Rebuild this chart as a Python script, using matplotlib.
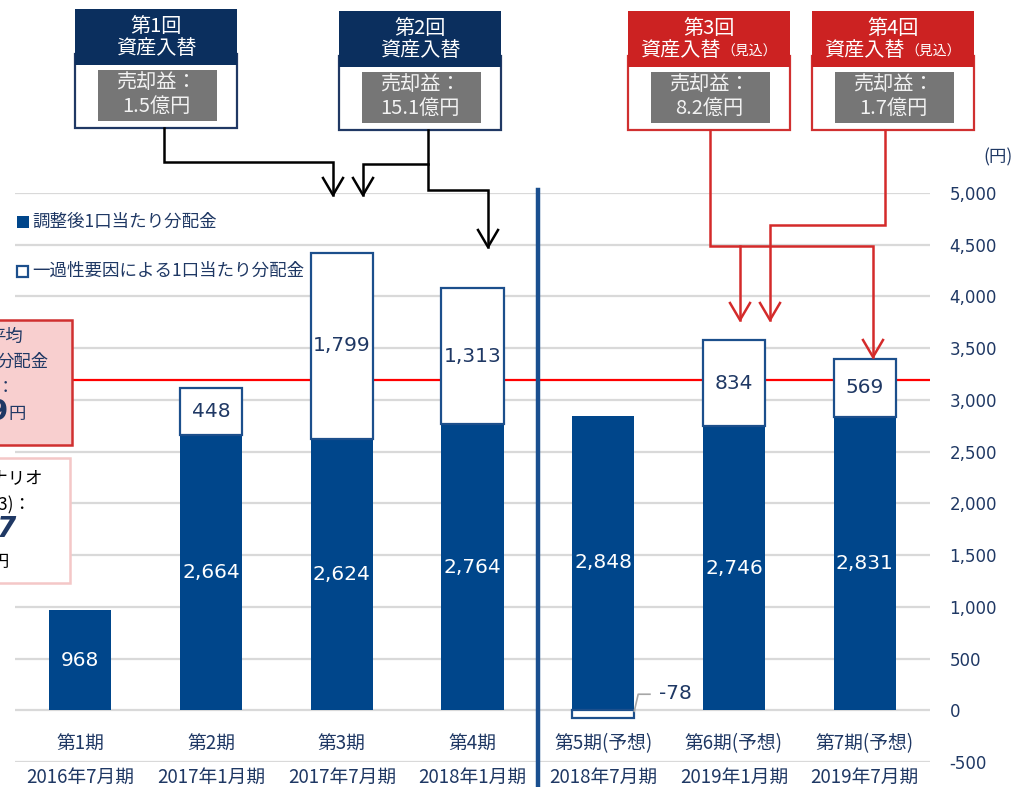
import matplotlib
matplotlib.use("Agg")
import matplotlib.pyplot as plt
import matplotlib.transforms as mtransforms
from matplotlib.patches import Rectangle
from matplotlib.lines import Line2D
import numpy as np

plt.rcParams['font.family'] = ['Noto Sans CJK JP', 'DejaVu Sans']

# ---- data ----
periods = ['第1期', '第2期', '第3期', '第4期', '第5期(予想)', '第6期(予想)', '第7期(予想)']
fiscal = ['2016年7月期', '2017年1月期', '2017年7月期', '2018年1月期',
          '2018年7月期', '2019年1月期', '2019年7月期']
adjusted = np.array([968, 2664, 2624, 2764, 2848, 2746, 2831])
one_off = np.array([0, 448, 1799, 1313, -78, 834, 569])
avg_level = 3190

rounds = ['第1回', '第2回', '第3回', '第4回']
sale_gain = ['1.5億円', '15.1億円', '8.2億円', '1.7億円']
forecast_round = [False, False, True, True]

# ---- colours ----
navy = '#00468b'
edge_navy = '#1c4f8c'
text_navy = '#1f3864'
head_navy = '#0b2f5e'
head_red = '#cc2222'
gray_box = '#767676'

W, H = 1016, 787
fig = plt.figure(figsize=(W / 100, H / 100), dpi=100)


def fx(x):
    return x / W


def fy(y):
    return 1 - y / H


ax = fig.add_axes([fx(15), fy(762), (930 - 15) / W, (762 - 193) / H])
x = np.arange(len(periods))
bw = 0.475

ax.set_xlim(-0.5, 6.5)
ax.set_ylim(-500, 5000)
ax.set_yticks(range(-500, 5001, 500))
ax.set_yticklabels([f'{v:,}' for v in range(-500, 5001, 500)],
                   family='DejaVu Sans', fontsize=12, color=text_navy)
ax.yaxis.tick_right()
ax.tick_params(axis='y', length=0, pad=14)
ax.set_xticks([])
for s in ax.spines.values():
    s.set_visible(False)
ax.yaxis.grid(True, color='#d9d9d9', lw=1.6)
ax.set_axisbelow(True)

# average line
ax.axhline(avg_level, color='#ff0000', lw=1.6, zorder=1)

# bars
ax.bar(x, adjusted, width=bw, color=navy, zorder=2)
mask = one_off != 0
bottoms = np.where(one_off > 0, adjusted, 0)
ax.bar(x[mask], one_off[mask], bottom=bottoms[mask], width=bw,
       facecolor='white', edgecolor=edge_navy, lw=1.6, zorder=3)

for i in x:
    ax.text(i, adjusted[i] / 2, f'{adjusted[i]:,}', ha='center', va='center',
            color='white', fontsize=14.5, family='DejaVu Sans', zorder=4)
    if one_off[i] > 0:
        ax.text(i, adjusted[i] + one_off[i] / 2, f'{one_off[i]:,}', ha='center',
                va='center', color=text_navy, fontsize=14.5,
                family='DejaVu Sans', zorder=4)
    elif one_off[i] < 0:
        re = i + bw / 2
        ax.plot([re, re + 0.03, re + 0.12], [-10, 155, 155], color='#a6a6a6',
                lw=1.2, zorder=4)
        ax.text(re + 0.19, 160, f'{one_off[i]:,}', ha='left', va='center',
                color=text_navy, fontsize=14.5, family='DejaVu Sans', zorder=4)

# category labels below the axis
bt = mtransforms.blended_transform_factory(ax.transData, fig.transFigure)
for i in x:
    ax.text(i, fy(744), periods[i], transform=bt, ha='center', va='center',
            fontsize=13.5, color=text_navy)
    ax.text(i, fy(777), fiscal[i], transform=bt, ha='center', va='center',
            fontsize=13.5, color=text_navy, clip_on=False)

# separator between results and forecasts
ax.add_line(Line2D([3.5, 3.5], [fy(190), 0], transform=bt, color='#1a4f8f',
                   lw=3.2, clip_on=False, zorder=5))

# unit
fig.text(fx(998), fy(157), '(円)', ha='center', va='center', fontsize=12.5,
         color=text_navy)

# legend
fig.patches.append(Rectangle((fx(17), fy(228)), 12 / W, 12 / H,
                             transform=fig.transFigure, facecolor=navy,
                             edgecolor='none'))
fig.text(fx(32), fy(222), '調整後1口当たり分配金', ha='left', va='center',
         fontsize=12.6, color=text_navy)
fig.patches.append(Rectangle((fx(17), fy(277)), 11 / W, 11 / H,
                             transform=fig.transFigure, facecolor='white',
                             edgecolor=edge_navy, lw=1.6))
fig.text(fx(32), fy(271), '一過性要因による1口当たり分配金', ha='left',
         va='center', fontsize=12.6, color=text_navy)


def rect(x0, y0, x1, y1, **kw):
    fig.patches.append(Rectangle((fx(x0), fy(y1)), (x1 - x0) / W, (y1 - y0) / H,
                                 transform=fig.transFigure, **kw))


# left side boxes (cut off at the figure edge, as in the source)
rect(-10, 320, 72, 445, facecolor='#f8cfcf', edgecolor='#d03030', lw=1.8)
fig.text(fx(23), fy(337), '平均', ha='right', va='center', fontsize=12.5,
         color=text_navy)
fig.text(fx(49), fy(362), '分配金', ha='right', va='center', fontsize=12.5,
         color=text_navy)
fig.text(fx(14), fy(388), '：', ha='right', va='center', fontsize=12.5,
         color=text_navy)
fig.text(fx(8), fy(412), '9', ha='right', va='center', fontsize=20,
         fontweight='bold', family='DejaVu Sans', color=text_navy)
fig.text(fx(8), fy(414), '円', ha='left', va='center', fontsize=12.5,
         color=text_navy)

rect(-10, 458, 70, 583, facecolor='white', edgecolor='#f4c7c7', lw=1.8)
fig.text(fx(43), fy(478), 'シナリオ', ha='right', va='center', fontsize=12.5,
         color='black')
fig.text(fx(31), fy(505), '(3)：', ha='right', va='center', fontsize=12.5,
         color='black')
fig.text(fx(16), fy(529), '7', ha='right', va='center', fontsize=20,
         fontweight='bold', fontstyle='italic', family='DejaVu Sans',
         color=text_navy)
fig.text(fx(9), fy(562), '円', ha='right', va='center', fontsize=12.5,
         color='black')

# asset replacement boxes
box_left = [75, 339, 628, 812]
box_top = [9, 11, 11, 11]
for k in range(4):
    l, t = box_left[k], box_top[k]
    r = l + 162
    c = (l + r) / 2
    hc = head_red if forecast_round[k] else head_navy
    bc = '#d03030' if forecast_round[k] else '#203864'
    rect(l, t + 45, r, t + 119, facecolor='white', edgecolor=bc, lw=1.6)
    rect(l, t, r, t + 56, facecolor=hc, edgecolor='none')
    rect(l + 23, t + 61, l + 142, t + 112, facecolor=gray_box, edgecolor='none')
    fig.text(fx(c), fy(t + 18), rounds[k], ha='center', va='center',
             fontsize=14.5, color='white')
    if forecast_round[k]:
        fig.text(fx(c + 12), fy(t + 40), '資産入替', ha='right', va='center',
                 fontsize=14.5, color='white')
        fig.text(fx(c + 12), fy(t + 41), '（見込）', ha='left', va='center',
                 fontsize=10, color='white')
    else:
        fig.text(fx(c), fy(t + 40), '資産入替', ha='center', va='center',
                 fontsize=14.5, color='white')
    fig.text(fx(c), fy(t + 73), '売却益：', ha='center', va='center',
             fontsize=14.5, color='#f2f2f2')
    fig.text(fx(c), fy(t + 97), sale_gain[k], ha='center', va='center',
             fontsize=14.5, color='#f2f2f2')

# arrows from boxes to bars
arrow_paths = [
    ([(164, 128), (164, 162), (333, 162), (333, 195)], 'black'),
    ([(428, 130), (428, 190), (488, 190), (488, 247)], 'black'),
    ([(428, 164), (363, 164), (363, 195)], 'black'),
    ([(710, 130), (710, 246), (873, 246), (873, 357)], '#d42a2a'),
    ([(740, 246), (740, 320)], '#d42a2a'),
    ([(885, 130), (885, 225), (770, 225), (770, 320)], '#d42a2a'),
]
for pts, col in arrow_paths:
    xs = [fx(p[0]) for p in pts]
    ys = [fy(p[1]) for p in pts]
    fig.add_artist(Line2D(xs, ys, transform=fig.transFigure, color=col,
                          lw=1.8, solid_joinstyle='miter'))
    tx, ty = pts[-1]
    fig.add_artist(Line2D([fx(tx - 10), fx(tx), fx(tx + 10)],
                          [fy(ty - 17), fy(ty), fy(ty - 17)],
                          transform=fig.transFigure, color=col, lw=1.8))

fig.savefig('out.png', dpi=100)
